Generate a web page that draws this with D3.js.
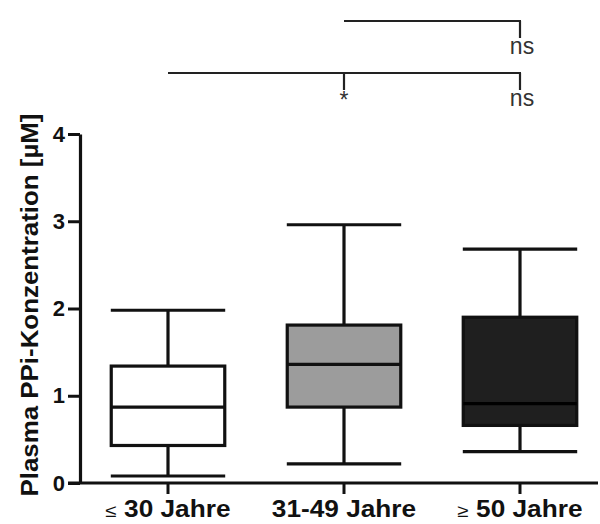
<!DOCTYPE html>
<html><head><meta charset="utf-8">
<script src="https://cdn.jsdelivr.net/npm/d3@7"></script>
<style>body{margin:0;background:#fff}svg{display:block}</style>
</head><body><svg id="c" width="600" height="524"></svg>
<script>
const categories = ["≤ 30 Jahre", "31-49 Jahre", "≥ 50 Jahre"];
const whiskerLow = [0.08, 0.22, 0.36];
const q1 = [0.43, 0.87, 0.66];
const median = [0.87, 1.36, 0.91];
const q3 = [1.34, 1.81, 1.90];
const whiskerHigh = [1.98, 2.96, 2.68];
const fills = ["#ffffff", "#9c9c9c", "#1f1f1f"];
const yTicks = [0, 1, 2, 3, 4];
const yTitle = "Plasma PPi-Konzentration [µM]";
const comparisons = [
  {from: "31-49 Jahre", to: ["≥ 50 Jahre"], labels: ["ns"]},
  {from: "≤ 30 Jahre", to: ["31-49 Jahre", "≥ 50 Jahre"], labels: ["*", "ns"]}
];

const FONT = "Liberation Sans, Arial, sans-serif";
const svg = d3.select("#c");
const x = d3.scaleBand().domain(categories).range([80, 608]);
const y = d3.scaleLinear().domain([0, 4]).range([483, 134]);
const ink = "#111";
const bw = x.bandwidth() * 0.645, cw = x.bandwidth() * 0.325;
const cx = c => x(c) + x.bandwidth() / 2;

// boxes
const g = svg.append("g");
categories.forEach((c, i) => {
  const m = cx(c);
  const gg = g.append("g").attr("stroke", ink).attr("stroke-width", 3.2).attr("fill", "none");
  gg.append("line").attr("x1", m).attr("x2", m).attr("y1", y(whiskerHigh[i])).attr("y2", y(q3[i]));
  gg.append("line").attr("x1", m).attr("x2", m).attr("y1", y(q1[i])).attr("y2", y(whiskerLow[i]));
  gg.append("line").attr("x1", m - cw).attr("x2", m + cw).attr("y1", y(whiskerHigh[i])).attr("y2", y(whiskerHigh[i]));
  gg.append("line").attr("x1", m - cw).attr("x2", m + cw).attr("y1", y(whiskerLow[i])).attr("y2", y(whiskerLow[i]));
  gg.append("rect").attr("x", m - bw / 2).attr("width", bw)
    .attr("y", y(q3[i])).attr("height", y(q1[i]) - y(q3[i])).attr("fill", fills[i]);
  gg.append("line").attr("x1", m - bw / 2).attr("x2", m + bw / 2).attr("y1", y(median[i])).attr("y2", y(median[i]))
    .attr("stroke", i === 2 ? "#000" : ink);
});

// y axis
const ya = svg.append("g").attr("transform", "translate(80,0)")
  .call(d3.axisLeft(y).tickValues(yTicks).tickFormat(d3.format("d")).tickSize(12).tickPadding(3).tickSizeOuter(0));
ya.select(".domain").attr("stroke", ink).attr("stroke-width", 3.2);
ya.selectAll(".tick line").attr("stroke", ink).attr("stroke-width", 3);
ya.selectAll(".tick text").attr("fill", "#111").attr("font-family", FONT)
  .attr("font-weight", "bold").attr("font-size", 22);

// x axis
const xa = svg.append("g").attr("transform", "translate(0,483)")
  .call(d3.axisBottom(x).tickSize(11).tickSizeOuter(0).tickFormat(""));
xa.select(".domain").remove();
xa.append("line").attr("x1", 68).attr("x2", 598).attr("stroke", ink).attr("stroke-width", 3.2);
xa.selectAll(".tick line").attr("stroke", ink).attr("stroke-width", 3);
xa.selectAll(".tick").each(function(c) {
  const t = d3.select(this).append("text").attr("y", 34).attr("text-anchor", "middle")
    .attr("fill", "#111").attr("font-family", FONT)
    .attr("font-weight", "bold").attr("font-size", 23);
  const first = c.charAt(0);
  if (first === "≤" || first === "≥") {
    t.append("tspan").attr("font-weight", "normal").attr("font-size", 18).text(first);
    t.append("tspan").text(c.slice(1));
  } else t.text(c);
  const w = t.node().getComputedTextLength();
  t.attr("textLength", w * 1.14).attr("lengthAdjust", "spacingAndGlyphs");
});

// y title
const yt = svg.append("text").attr("transform", "translate(38,305) rotate(-90)").attr("text-anchor", "middle")
  .attr("fill", "#111").attr("font-family", FONT)
  .attr("font-weight", "bold").attr("font-size", 23).text(yTitle);
yt.attr("textLength", yt.node().getComputedTextLength() * 1.125).attr("lengthAdjust", "spacingAndGlyphs");

// significance brackets
const levelY = [21, 73];
comparisons.forEach((cmp, k) => {
  const ly = levelY[k];
  const br = svg.append("g").attr("stroke", "#222").attr("stroke-width", 2.2);
  const xs = cmp.to.map(cx);
  br.append("line").attr("x1", cx(cmp.from)).attr("x2", d3.max(xs) + 1).attr("y1", ly).attr("y2", ly);
  cmp.to.forEach((t, j) => {
    br.append("line").attr("x1", cx(t)).attr("x2", cx(t)).attr("y1", ly).attr("y2", ly + 17);
    svg.append("text").attr("x", cx(t) + (cmp.labels[j] === "*" ? 0 : 2)).attr("y", ly + 33 + (cmp.labels[j] === "*" ? 2 : 0))
      .attr("text-anchor", "middle").attr("fill", "#333")
      .attr("font-family", FONT).attr("font-size", 23)
      .text(cmp.labels[j]);
  });
});
</script></body></html>
